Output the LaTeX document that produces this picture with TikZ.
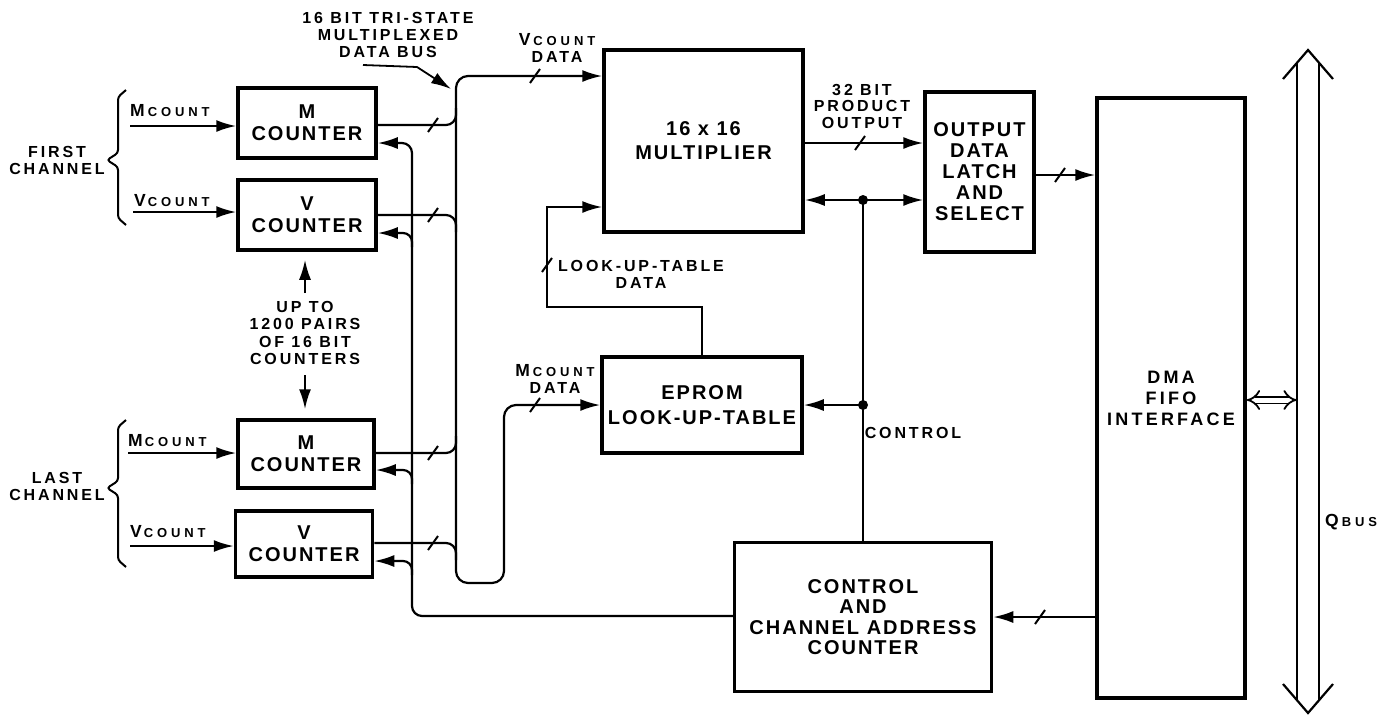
\documentclass[tikz,border=0pt]{standalone}
\usepackage{fontspec}
\setmainfont{Liberation Sans}
\newfontfamily\lblf{Liberation Sans}[LetterSpace=18]
\newfontfamily\boxff{Liberation Sans}[LetterSpace=10]
\newfontfamily\dmaf{Liberation Sans}[LetterSpace=18]
\newfontfamily\widef{Liberation Sans}[LetterSpace=30]
\usetikzlibrary{arrows.meta,calc}
\newcommand\smallc[1]{{\widef\bfseries\fontsize{13}{14}\selectfont #1}}
\newcommand\capm[1]{{\fontsize{17.5}{18}\selectfont #1}}
\tikzset{
  blk/.style={draw,line width=3.5pt,align=center,inner sep=0pt,
    font=\boxff\bfseries\fontsize{20}{22}\selectfont},
  wire/.style={line width=2.2pt},
  tip/.tip={Latex[length=20pt,width=12pt]},
  arr/.style={-tip},
  lbl/.style={align=center,inner sep=0pt,font=\lblf\bfseries\fontsize{16}{17}\selectfont},
  cnt/.style={inner sep=0pt,anchor=base west,font=\lblf\bfseries\fontsize{16}{17}\selectfont},
  busslash/.pic={\draw[line width=2pt,-] (-5,7) -- (5,-7);}
}
\begin{document}
\begin{tikzpicture}[x=1pt,y=-1pt]
\useasboundingbox[fill=white] (0,0) rectangle (1396,718);

% blocks
\node[blk,minimum width=138pt,minimum height=70pt] (m1) at (307,123) {M\\COUNTER};
\node[blk,minimum width=138pt,minimum height=70pt] (v1) at (307,215) {V\\COUNTER};
\node[blk,minimum width=136pt,minimum height=68pt] (m2) at (306,454) {M\\COUNTER};
\node[blk,minimum width=137pt,minimum height=66pt] (v2) at (304,544) {V\\COUNTER};
\node[blk,minimum width=199pt,minimum height=182pt,font=\boxff\bfseries\fontsize{20}{24}\selectfont] (mult) at (703.5,141) {16 x 16\\MULTIPLIER};
\node[blk,minimum width=200pt,minimum height=96pt,font=\boxff\bfseries\fontsize{20}{25}\selectfont] (eprom) at (702,405) {EPROM\\LOOK-UP-TABLE};
\node[blk,minimum width=109pt,minimum height=160pt,font=\boxff\bfseries\fontsize{20}{21}\selectfont] (latch) at (979.5,172) {OUTPUT\\DATA\\LATCH\\AND\\SELECT};
\node[blk,minimum width=148pt,minimum height=600pt,font=\dmaf\bfseries\fontsize{18}{21}\selectfont] (dma) at (1171,398) {DMA\\FIFO\\INTERFACE};
\node[blk,minimum width=257pt,minimum height=149pt,font=\boxff\bfseries\fontsize{20}{20.5}\selectfont] (ctrl) at (863,617) {CONTROL\\AND\\CHANNEL ADDRESS\\COUNTER};

% channel braces and labels
\draw[line width=2pt,rounded corners=3pt] (126,90) -- (118,97) -- (118,153) -- (107,160) -- (118,167) -- (118,218) -- (126,225);
\draw[line width=2pt,rounded corners=3pt] (126,420) -- (118,427) -- (118,481) -- (107,488) -- (118,495) -- (118,560) -- (126,567);
\node[lbl] (fch) at (57,160) {FIRST\\CHANNEL};
\node[lbl] (lch) at (57,486) {LAST\\CHANNEL};

% count inputs
\node[cnt] (mc1) at (130,116) {\capm{M}\hspace{3pt}\smallc{COUNT}};
\node[cnt] (vc1) at (134,206) {\capm{V}\hspace{2pt}\smallc{COUNT}};
\node[cnt] (mc2) at (128,446) {\capm{M}\hspace{2pt}\smallc{COUNT}};
\node[cnt] (vc2) at (130,537) {\capm{V}\hspace{2pt}\smallc{COUNT}};
\coordinate (in1) at (130,126);
\coordinate (in2) at (133,212);
\coordinate (in3) at (128,453);
\coordinate (in4) at (130,546);
\draw[wire,arr] (in1) -- (m1.west|-in1);
\draw[wire,arr] (in2) -- (v1.west|-in2);
\draw[wire,arr] (in3) -- (m2.west|-in3);
\draw[wire,arr] (in4) -- (v2.west|-in4);

% up to 1200 pairs
\node[lbl,font=\lblf\bfseries\fontsize{16}{17.5}\selectfont] (upto) at (305,333) {UP TO\\1200 PAIRS\\OF 16 BIT\\COUNTERS};
\coordinate (ua) at (305,293);
\coordinate (da) at (305,375);
\draw[wire,arr,shorten >=8pt] (ua) -- (ua|-v1.south);
\draw[wire,arr,shorten >=9pt] (da) -- (da|-m2.north);

% multiplexed data bus
\coordinate (bx1) at (456,76);
\coordinate (bx2) at (456,583);
\coordinate (bx3) at (504,583);
\coordinate (bx4) at (504,405);
\draw[wire,tip-tip,rounded corners=12pt]
  (mult.west|-bx1) -- (bx1) -- (bx2) -- (bx3) -- (bx4) -- (eprom.west|-bx4);
\coordinate (j1) at (456,108);
\coordinate (j2) at (456,232);
\coordinate (j3) at (456,436);
\coordinate (j4) at (456,560);
\draw[wire,rounded corners=10pt] (m1.east|-0,125) -| (j1);
\draw[wire,rounded corners=10pt] (v1.east|-0,215) -| (j2);
\draw[wire,rounded corners=10pt] (m2.east|-0,453) -| (j3);
\draw[wire,rounded corners=10pt] (v2.east|-0,543) -| (j4);
\path (433,125) pic {busslash};
\path (433,215) pic {busslash};
\path (433,453) pic {busslash};
\path (433,543) pic {busslash};
\path (535,76) pic {busslash};
\path (535,405) pic {busslash};

\node[lbl] (title) at (388,35) {16 BIT TRI-STATE\\MULTIPLEXED\\DATA BUS};
\coordinate (t0) at (363,65);
\coordinate (t1) at (417,67);
\coordinate (tb) at (451,89);
\draw[line width=1.8pt,arr] (t0) -- (t1) -- (tb);

\node[lbl] (vcd) at (557,48) {\capm{V}\hspace{3pt}\smallc{COUNT}\\DATA};
\node[lbl] (mcd) at (555,379) {\capm{M}\hspace{3pt}\smallc{COUNT}\\DATA};

% control / channel address feedback
\coordinate (fb) at (412,616);
\draw[wire,arr,rounded corners=10pt] (ctrl.west|-fb) -- (fb) |- (m1.east|-0,143);
\draw[wire,arr,rounded corners=9pt] (fb|-0,247) |- (v1.east|-0,233);
\draw[wire,arr,rounded corners=9pt] (fb|-0,484) |- (m2.east|-0,470);
\draw[wire,arr,rounded corners=9pt] (fb|-0,575) |- (v2.east|-0,561);

% look-up-table data
\coordinate (lt1) at (547,307);
\draw[wire,arr] (eprom.north) |- (lt1) |- (mult.west|-0,207);
\path (547,265) pic {busslash};
\node[lbl] (ltd) at (641,274) {LOOK-UP-TABLE\\DATA};

% product output
\draw[wire,arr] (mult.east|-0,143) -- (latch.west|-0,143);
\path (860,143) pic {busslash};
\node[lbl,font=\lblf\bfseries\fontsize{16}{16.5}\selectfont] (prod) at (862,106) {32 BIT\\PRODUCT\\OUTPUT};

% control lines
\coordinate (cd1) at (863,200);
\coordinate (cd2) at (863,405);
\draw[wire] (ctrl.north) -- (cd1);
\draw[wire,arr] (cd1) -- (mult.east|-cd1);
\draw[wire,arr] (cd1) -- (latch.west|-cd1);
\draw[wire,arr] (cd2) -- (eprom.east|-cd2);
\fill (cd1) circle (5pt);
\fill (cd2) circle (5pt);
\node[lbl] (ctl) at (913,433) {CONTROL};

% latch -> dma, dma -> control
\draw[wire,arr] (latch.east|-0,175) -- (dma.west|-0,175);
\path (1060,175) pic {busslash};
\draw[wire,arr] (dma.west|-ctrl.east) -- (ctrl.east);
\path (1040,617) pic {busslash};

% Q bus
\node[minimum width=22pt,minimum height=637pt,inner sep=0pt] (qbus) at (1308,381.5) {};
\draw[wire] (qbus.north west) -- (qbus.south west);
\draw[wire] (qbus.north east) -- (qbus.south east);
\draw[wire,line join=miter] (1283,79) -- (1308,50) -- (1333,79);
\draw[wire,line join=miter] (1283,684) -- (1308,713) -- (1333,684);
\draw[line width=1.8pt,double distance=5pt,{Implies[length=10pt]}-{Implies[length=10pt]}] (dma.east|-0,400) -- (qbus.west|-0,400);
\node[cnt] (ql) at (1325,526) {\capm{Q}\hspace{3pt}\smallc{BUS}};
\end{tikzpicture}
\end{document}
